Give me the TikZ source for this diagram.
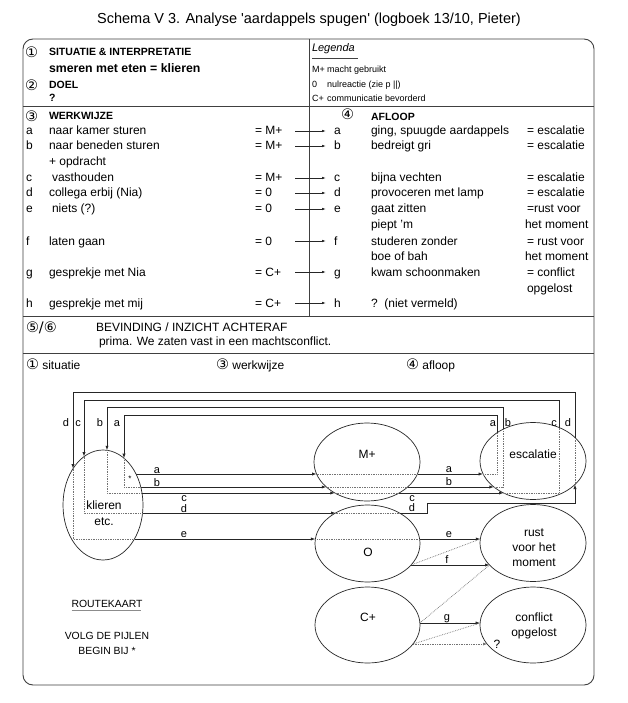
\documentclass[tikz,border=0pt]{standalone}
\usepackage{fontspec}
\setmainfont{Liberation Sans}
\newfontfamily\symf{DejaVu Sans}
\newfontfamily\rawf{Liberation Sans}[Ligatures=ResetAll]
\usetikzlibrary{shapes.geometric,arrows.meta}
\begin{document}
\begin{tikzpicture}[x=1pt,y=-1pt,
 every node/.style={inner sep=0pt,outer sep=0pt},
 txt/.style={anchor=base west,font=\fontsize{12}{14}\selectfont},
 hd/.style={anchor=base west,font=\fontsize{10.5}{12}\selectfont\bfseries},
 sm/.style={anchor=base west,font=\fontsize{9}{10}\selectfont},
 num/.style={anchor=base west,font=\symf\fontsize{14.5}{16}\selectfont},
 lbl/.style={anchor=base,font=\fontsize{11}{13}\selectfont},
 ctxt/.style={anchor=base,font=\fontsize{12}{14}\selectfont},
 ell/.style={ellipse,draw=black!85,line width=0.7pt,inner sep=0pt},
 sol/.style={draw=black!85,line width=0.75pt},
 arr/.style={sol,-{Latex[length=4.5pt,width=3.2pt]}},
 tarr/.style={sol,-{Latex[length=4pt,width=2.6pt]}},
 dot/.style={draw=black!55,line width=0.7pt,dash pattern=on 0.7pt off 1pt},
 dotarr/.style={dot,-{Latex[length=4pt,width=3pt]}},
 rule/.style={draw=black!75,line width=0.9pt},
]
\useasboundingbox (0,0) rectangle (627,703);
\fill[white] (0,0) rectangle (627,703);

% title
\node[anchor=base,font=\fontsize{14.5}{16}\selectfont] (title) at (309,24)
  {Schema V 3. Analyse {\rawf'}aardappels spugen{\rawf'} (logboek 13/10, Pieter)};

% frame and rules
\draw[rule,rounded corners=10pt] (23,39) rectangle (594,685);
\draw[rule] (23,106) -- (594,106);
\draw[rule] (23,316) -- (594,316);
\draw[rule] (23,353) -- (594,353);
\draw[rule] (309,39) -- (309,316);

% section 1/2
\node[num] (n1) at (25,57.5) {①};
\node[hd] (sit) at (49,56) {SITUATIE \& INTERPRETATIE};
\node[anchor=base west,font=\fontsize{12.3}{14}\selectfont\bfseries] (smeren) at (49,73) {smeren met eten = klieren};
\node[num] (n2) at (25,90.5) {②};
\node[hd] (doel) at (49,89) {DOEL};
\node[hd] (vraag) at (49,102) {?};

% legend
\node[anchor=base west,font=\fontsize{11}{13}\selectfont\itshape] (leg) at (312,52) {Legenda};
\draw[draw=black!75,line width=0.6pt] (leg.south west) ++(0,4) -- ++(46,0);
\node[sm] (lm) at (312,72.5) {M+};
\node[sm] (lmt) at (327,72.5) {macht gebruikt};
\node[sm] (l0) at (312,87.5) {0};
\node[sm] (l0t) at (327,87.5) {nulreactie (zie p ||)};
\node[sm] (lc) at (312,101.5) {C+};
\node[sm] (lct) at (327,101.5) {communicatie bevorderd};

% werkwijze
\node[num] (n3) at (25,121.5) {③};
\node[hd] (werk) at (49,120) {WERKWIJZE};
\node[txt] (la) at (26,135) {a}; \node[txt] (ta) at (49,135) {naar kamer sturen}; \node[txt] (qa) at (255,135) {= M+};
\node[txt] (lb) at (26,150) {b}; \node[txt] (tb) at (49,150) {naar beneden sturen}; \node[txt] (qb) at (255,150) {= M+};
\node[txt] (tb2) at (49,166) {+ opdracht};
\node[txt] (lc1) at (26,182) {c}; \node[txt] (tc) at (52,182) {vasthouden}; \node[txt] (qc) at (255,182) {= M+};
\node[txt] (ld) at (26,197) {d}; \node[txt] (td) at (49,197) {collega erbij (Nia)}; \node[txt] (qd) at (255,197) {= 0};
\node[txt] (le) at (26,213) {e}; \node[txt] (te) at (52,213) {niets (?)}; \node[txt] (qe) at (255,213) {= 0};
\node[txt] (lf) at (26,245) {f}; \node[txt] (tf) at (49,245) {laten gaan}; \node[txt] (qf) at (255,245) {= 0};
\node[txt] (lg) at (26,276) {g}; \node[txt] (tg) at (49,276) {gesprekje met Nia}; \node[txt] (qg) at (255,276) {= C+};
\node[txt] (lh) at (26,307) {h}; \node[txt] (th) at (49,307) {gesprekje met mij}; \node[txt] (qh) at (255,307) {= C+};

% afloop
\node[num] (n4) at (341,119.5) {④};
\node[hd] (afl) at (371,121) {AFLOOP};
\node[txt] (ra) at (334,135) {a}; \node[txt] (sa) at (371,135) {ging, spuugde aardappels}; \node[txt] (ua) at (527,135) {= escalatie};
\node[txt] (rb) at (334,150) {b}; \node[txt] (sb) at (371,150) {bedreigt gri}; \node[txt] (ub) at (527,150) {= escalatie};
\node[txt] (rc) at (334,182) {c}; \node[txt] (sc) at (371,182) {bijna vechten}; \node[txt] (uc) at (527,182) {= escalatie};
\node[txt] (rd) at (334,197) {d}; \node[txt] (sd) at (371,197) {provoceren met lamp}; \node[txt] (ud) at (527,197) {= escalatie};
\node[txt] (re) at (334,213) {e}; \node[txt] (se) at (371,213) {gaat zitten}; \node[txt] (ue) at (527,213) {=rust voor};
\node[txt] (se2) at (371,229) {piept 'm}; \node[txt] (ue2) at (525,229) {het moment};
\node[txt] (rf) at (334,245) {f}; \node[txt] (sf) at (371,245) {studeren zonder}; \node[txt] (uf) at (527,245) {= rust voor};
\node[txt] (sf2) at (371,260) {boe of bah}; \node[txt] (uf2) at (525,260) {het moment};
\node[txt] (rg) at (334,276) {g}; \node[txt] (sg) at (371,276) {kwam schoonmaken}; \node[txt] (ug) at (527,276) {= conflict};
\node[txt] (ug2) at (527,292) {opgelost};
\node[txt] (rh) at (334,307) {h}; \node[txt] (sh) at (371,307) {?\ \ (niet vermeld)};

\foreach \n/\y in {a/131,b/146,c/178,d/193,e/209,f/241,g/272,h/303}{
  \coordinate (f\n) at (295,\y); \coordinate (g\n) at (326,\y);
  \draw[tarr] (f\n) -- (g\n);
}

% bevinding
\node[num] (n56) at (26,332.5) {⑤/⑥};
\node[txt] (bev) at (96,331) {BEVINDING / INZICHT ACHTERAF};
\node[txt] (prima) at (99,345) {prima. We zaten vast in een machtsconflict.};

% bottom headers
\node[txt] (h1) at (26,369) {{\symf\fontsize{14.5}{16}\selectfont ①} situatie};
\node[txt] (h3) at (216,369) {{\symf\fontsize{14.5}{16}\selectfont ③} werkwijze};
\node[txt] (h4) at (406,369) {{\symf\fontsize{14.5}{16}\selectfont ④} afloop};

% ellipses
\node[ell,minimum width=80pt,minimum height=110pt] (kl) at (103,505) {};
\node[ell,minimum width=106pt,minimum height=78pt] (mp) at (367,462) {};
\node[ell,minimum width=106pt,minimum height=77pt] (es) at (533,461) {};
\node[ell,minimum width=105pt,minimum height=77pt] (oo) at (367.5,543.5) {};
\node[ell,minimum width=106pt,minimum height=77pt] (ru) at (533,543) {};
\node[ell,minimum width=105pt,minimum height=76pt] (cp) at (367.5,625) {};
\node[ell,minimum width=106pt,minimum height=76pt] (co) at (533,625) {};

\node[ctxt] (klt) at (104,509) {klieren};
\node[ctxt] (klt2) at (104,525) {etc.};
\node[ctxt] (mpt) at (367,458) {M+};
\node[ctxt] (est) at (533,458) {escalatie};
\node[ctxt] (oot) at (368,556) {O};
\node[ctxt] (rut1) at (534,536) {rust};
\node[ctxt] (rut2) at (534,551) {voor het};
\node[ctxt] (rut3) at (534,566) {moment};
\node[ctxt] (cpt) at (368,621) {C+};
\node[ctxt] (cot1) at (534,621) {conflict};
\node[ctxt] (cot2) at (534,636) {opgelost};
\node[ctxt] (q) at (497,648) {?};
\node[anchor=base,font=\fontsize{8}{9}\selectfont] (star) at (130,481) {*};

% boundary coordinates
\coordinate (kA_in) at (124,458.2); \coordinate (kB_in) at (107,450.3);
\coordinate (kC_in) at (84,456.6);  \coordinate (kD_in) at (73,468.6);
\coordinate (kA_out) at (136,474); \coordinate (kB_out) at (140.8,487);
\coordinate (kC_out) at (142,493); \coordinate (kD_out) at (142.6,513);
\coordinate (kE_out) at (134.4,539);
\coordinate (mA_in) at (316.6,474); \coordinate (mA_out) at (417.4,474);
\coordinate (mB_in) at (326.3,487); \coordinate (mB_out) at (407.7,487);
\coordinate (mC_in) at (334.8,493); \coordinate (mC_out) at (399.2,493);
\coordinate (eA_in) at (483.1,474); \coordinate (eB_in) at (493.9,487);
\coordinate (eC_in) at (503.5,493); \coordinate (eD_in) at (575,484.5);
\coordinate (eA_out) at (497,432.7); \coordinate (eB_out) at (503,429.3);
\coordinate (eC_out) at (559,427.5); \coordinate (eD_out) at (575,437.5);
\coordinate (oD_in) at (335.5,513); \coordinate (oD_out) at (399.5,513);
\coordinate (oE_in) at (315.4,539); \coordinate (oE_out) at (419.6,539);
\coordinate (oF_out) at (411,565);
\coordinate (rE_in) at (480.3,539); \coordinate (rF_in) at (489.5,565);
\coordinate (cG_out) at (419.9,623); \coordinate (cH_out) at (413,644);
\coordinate (coG_in) at (480.1,623); \coordinate (coH_in) at (487.1,644);
\coordinate (topA) at (0,415); \coordinate (topB) at (0,407);
\coordinate (topC) at (0,400); \coordinate (topD) at (0,392);
\coordinate (dStep) at (427,503);

% return loops
\draw[arr] (eA_out) -- (eA_out |- topA) -- (kA_in |- topA) -- (kA_in);
\draw[arr] (eB_out) -- (eB_out |- topB) -- (kB_in |- topB) -- (kB_in);
\draw[arr] (eC_out) -- (eC_out |- topC) -- (kC_in |- topC) -- (kC_in);
\draw[arr] (eD_out) -- (eD_out |- topD) -- (kD_in |- topD) -- (kD_in);

% outgoing lines
\draw[arr] (kA_out) -- (mA_in);  \draw[arr] (mA_out) -- (eA_in);
\draw[arr] (kB_out) -- (mB_in);  \draw[arr] (mB_out) -- (eB_in);
\draw[arr] (kC_out) -- (mC_in);  \draw[arr] (mC_out) -- (eC_in);
\draw[arr] (kD_out) -- (oD_in);
\draw[arr] (oD_out) -- (dStep |- oD_out) -- (dStep) -- (eD_in |- dStep) -- (eD_in);
\draw[arr] (kE_out) -- (oE_in);  \draw[arr] (oE_out) -- (rE_in);
\draw[arr] (oF_out) -- (rF_in);
\draw[arr] (cG_out) -- (coG_in);

% dotted routes
\draw[dot] (kA_in) -- (kA_in |- kB_out) -- (kB_out);
\draw[dot] (kB_in) -- (kB_in |- kC_out) -- (kC_out);
\draw[dot] (kC_in) -- (kC_in |- kD_out) -- (kD_out);
\draw[dot] (kD_in) -- (kD_in |- kE_out) -- (kE_out);
\draw[dot] (mA_in) -- (mA_out);
\draw[dot] (mB_in) -- (mB_out);
\draw[dot] (mC_in) -- (mC_out);
\draw[dot] (oD_in) -- (oD_out);
\draw[dot] (oE_in) -- (oE_out);
\draw[dot] (eA_in) -- (eA_out |- eA_in) -- (eA_out);
\draw[dot] (eB_in) -- (eB_out |- eB_in) -- (eB_out);
\draw[dot] (eC_in) -- (eC_out |- eC_in) -- (eC_out);
\draw[dot] (eD_in) -- (eD_out);
\draw[dot] (rE_in) -- (oF_out);
\draw[dot] (cG_out) -- (rF_in);
\draw[dot] (cH_out) -- (coG_in);
\draw[dotarr] (cH_out) -- (coH_in);

% connector labels
\node[lbl] at (66,426) {d}; \node[lbl] at (78,426) {c};
\node[lbl] at (100,426) {b}; \node[lbl] at (117,426) {a};
\node[lbl] at (493,426) {a}; \node[lbl] at (508,426) {b};
\node[lbl] at (554,426) {c}; \node[lbl] at (568,426) {d};
\node[lbl] at (157,473) {a}; \node[lbl] at (157,486) {b};
\node[lbl] at (184,501) {c}; \node[lbl] at (184,512) {d};
\node[lbl] at (184,537) {e};
\node[lbl] at (449,472) {a}; \node[lbl] at (449,485) {b};
\node[lbl] at (412,501) {c}; \node[lbl] at (412,511) {d};
\node[lbl] at (449,537) {e}; \node[lbl] at (447,563) {f};
\node[lbl] at (447,620) {g};

% routekaart
\node[anchor=base,font=\fontsize{10.4}{12}\selectfont] (rk) at (107,607) {ROUTEKAART};
\draw[draw=black!45,line width=0.9pt] (rk.south west) ++(0,3) -- ++(69,0);
\node[anchor=base,font=\fontsize{10.4}{12}\selectfont] (volg) at (107,639) {VOLG DE PIJLEN};
\node[anchor=base,font=\fontsize{10.4}{12}\selectfont] (begin) at (107,654) {BEGIN BIJ *};
\end{tikzpicture}
\end{document}
